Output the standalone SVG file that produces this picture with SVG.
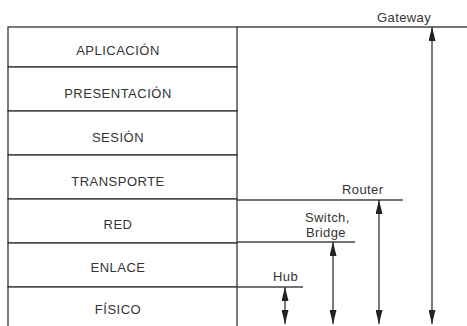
<svg xmlns="http://www.w3.org/2000/svg" width="467" height="326" viewBox="0 0 467 326">
<style>
.layer rect{fill:#fff;stroke:#333;stroke-width:1.3}
.layer text{font-family:"Liberation Sans",Arial,sans-serif;font-size:13px;letter-spacing:0.5px;fill:#333;text-anchor:middle}
.lbl{font-family:"Liberation Sans",Arial,sans-serif;font-size:13px;letter-spacing:0.4px;fill:#333}
.ext{stroke:#444;stroke-width:1.3;fill:none}
.arr{stroke:#333;stroke-width:1.3;fill:none;marker-start:url(#ah);marker-end:url(#ah)}
</style>
<defs>
<marker id="ah" markerUnits="userSpaceOnUse" markerWidth="14" markerHeight="7" viewBox="0 0 14 7" refX="14" refY="3.5" orient="auto-start-reverse">
<path d="M0,0 L14,3.5 L0,7 z" fill="#222"/>
</marker>
</defs>
<rect width="467" height="326" fill="#fff"/>
<g id="aplicacion" class="layer"><rect x="8" y="27" width="229" height="40"/><text x="118" y="55">APLICACIÓN</text></g>
<g id="presentacion" class="layer"><rect x="8" y="67" width="229" height="44"/><text x="118" y="98">PRESENTACIÓN</text></g>
<g id="sesion" class="layer"><rect x="8" y="111" width="229" height="44"/><text x="118" y="142">SESIÓN</text></g>
<g id="transporte" class="layer"><rect x="8" y="155" width="229" height="44"/><text x="118" y="186">TRANSPORTE</text></g>
<g id="red" class="layer"><rect x="8" y="199" width="229" height="44"/><text x="118" y="229">RED</text></g>
<g id="enlace" class="layer"><rect x="8" y="243" width="229" height="44"/><text x="118" y="272">ENLACE</text></g>
<g id="fisico" class="layer"><rect x="8" y="287" width="229" height="50"/><text x="118" y="314">FÍSICO</text></g>
<g id="labels">
<text class="lbl" x="377" y="22">Gateway</text>
<text class="lbl" x="342" y="194">Router</text>
<text class="lbl" x="305" y="222">Switch,</text>
<text class="lbl" x="306" y="237">Bridge</text>
<text class="lbl" x="273" y="281">Hub</text>
</g>
<g id="connectors">
<line class="ext" x1="237" y1="27" x2="467" y2="27"/>
<line class="ext" x1="237" y1="200" x2="403" y2="200"/>
<line class="ext" x1="237" y1="242" x2="355" y2="242"/>
<line class="ext" x1="237" y1="287" x2="303" y2="287"/>
<line class="arr" x1="432" y1="27" x2="432" y2="324"/>
<line class="arr" x1="379" y1="200" x2="379" y2="324"/>
<line class="arr" x1="333" y1="242" x2="333" y2="324"/>
<line class="arr" x1="285" y1="287" x2="285" y2="324"/>
</g>
</svg>
